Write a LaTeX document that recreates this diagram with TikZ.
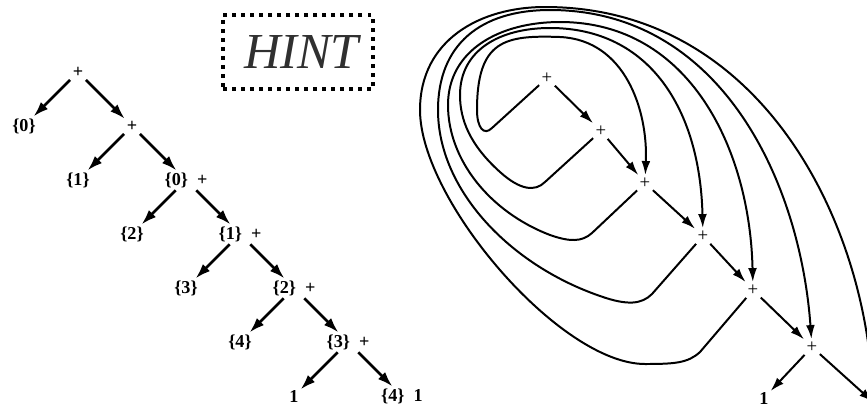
\documentclass[tikz,border=0pt]{standalone}
\usepackage{fontspec}
\setmainfont{Liberation Serif}
\usepackage{xcolor}
\usetikzlibrary{arrows.meta, positioning}
\definecolor{HintGray}{HTML}{303030}

\begin{document}
\begin{tikzpicture}[
    x=0.03cm, y=-0.03cm,
    node distance=1.62cm and 1.62cm, on grid,
    term/.style={inner sep=1.5pt, font=\fontsize{15.5}{18}\selectfont\bfseries},
    plusnode/.style={inner sep=2pt, font=\fontsize{16}{18}\selectfont},
    edge/.style={-{Latex[length=13pt,width=8.5pt]}, line width=2.3pt, shorten <=1pt},
    link/.style={-{Latex[length=12pt,width=7.5pt]}, line width=1.7pt},
    hintbox/.style={draw, line width=3.4pt, dash pattern=on 3.4pt off 4.3pt,
                    minimum width=4.5cm, minimum height=2.22cm, text=HintGray,
                    font=\fontsize{43}{48}\selectfont\itshape}
]
\useasboundingbox (0,0) rectangle (867,408);

% plain tree
\node[term] (r0) at (78,72) {+};
\node[term, below left=of r0] (t0) {\{0\}};
\node[term, below right=of r0] (r1) {+};
\node[term, below left=of r1] (t1) {\{1\}};
\node[term, below right=of r1] (r2) {\{0\}\enspace+};
\node[term, below left=of r2] (t2) {\{2\}};
\node[term, below right=of r2] (r3) {\{1\}\enspace+};
\node[term, below left=of r3] (t3) {\{3\}};
\node[term, below right=of r3] (r4) {\{2\}\enspace+};
\node[term, below left=of r4] (t4) {\{4\}};
\node[term, below right=of r4] (r5) {\{3\}\enspace+};
\node[term, below left=of r5] (t5) {1};
\node[term, below right=of r5] (t6) {\{4\}\enspace1};

\draw[edge] (r0) -- (t0);
\draw[edge] (r0) -- (r1);
\draw[edge] (r1) -- (t1);
\draw[edge] (r1) -- (r2);
\draw[edge] (r2) -- (t2);
\draw[edge] (r2) -- (r3);
\draw[edge] (r3) -- (t3);
\draw[edge] (r3) -- (r4);
\draw[edge] (r4) -- (t4);
\draw[edge] (r4) -- (r5);
\draw[edge] (r5) -- (t5);
\draw[edge] (r5) -- (t6);

\node[hintbox] (hint) at (298,52) {\hspace{6pt}HINT};

% threaded tree
\node[plusnode] (n0) at (547,78) {+};
\node[plusnode] (n1) at (601,131) {+};
\node[plusnode] (n2) at (645,183) {+};
\node[plusnode] (n3) at (703,236) {+};
\node[plusnode] (n4) at (753,290) {+};
\node[plusnode] (n5) at (812,347) {+};
\node[term] (m5) at (764,398) {1};
\coordinate (n6) at (873,402);

\draw[link] (n0) -- (n1);
\draw[link] (n1) -- (n2);
\draw[link] (n2) -- (n3);
\draw[link] (n3) -- (n4);
\draw[link] (n4) -- (n5);
\draw[link] (n5) -- (m5);
\draw[link] (n5) -- (n6);

% left links wrapped round to the node two levels down
\draw[link] (n0) -- (492,128) .. controls (484,136) and (477,128) .. (477,110)
    .. controls (477,40) and (505,35) .. (560,37)
    .. controls (625,40) and (648,110) .. (n2);
\draw[link] (n1) -- (545,182) .. controls (535,192) and (520,190) .. (500,172)
    .. controls (470,145) and (460,120) .. (460,95)
    .. controls (460,50) and (500,28) .. (550,28)
    .. controls (650,28) and (700,110) .. (n3);
\draw[link] (n2) -- (592,233) .. controls (582,242) and (570,242) .. (550,235)
    .. controls (490,212) and (448,160) .. (448,105)
    .. controls (448,50) and (500,22) .. (560,22)
    .. controls (690,22) and (750,150) .. (n4);
\draw[link] (n3) -- (652,294) .. controls (642,304) and (628,306) .. (600,296)
    .. controls (510,265) and (438,190) .. (438,110)
    .. controls (438,45) and (480,10) .. (550,10)
    .. controls (720,10) and (800,180) .. (n5);
\draw[link] (n4) -- (700,352) .. controls (688,363) and (675,364) .. (645,364)
    .. controls (560,364) and (420,200) .. (420,110)
    .. controls (420,40) and (480,7) .. (545,7)
    .. controls (760,7) and (865,220) .. (n6);

\end{tikzpicture}
\end{document}
